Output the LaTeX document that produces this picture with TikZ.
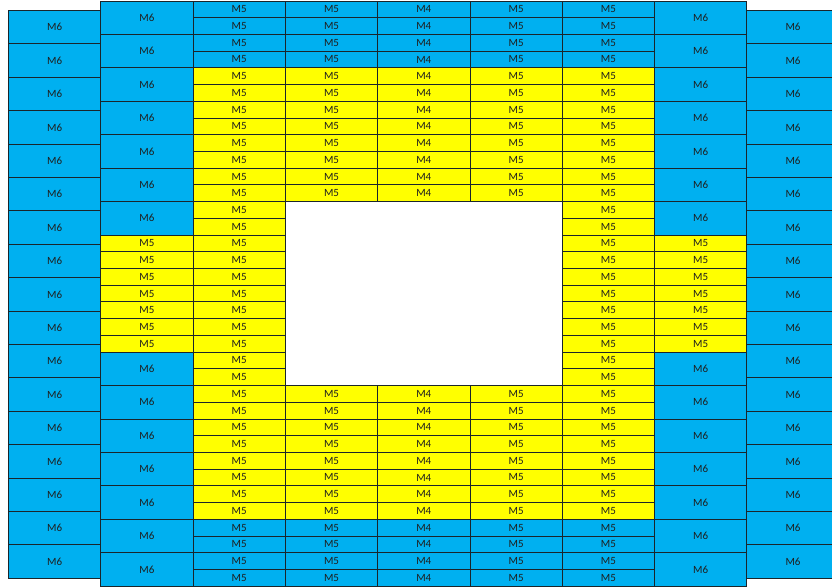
\documentclass[tikz,border=0pt]{standalone}
\usepackage{fontspec}
\setmainfont{Carlito}
\definecolor{cblue}{HTML}{00B0F0}
\definecolor{cyel}{HTML}{FFFF00}
\definecolor{cline}{HTML}{1A252B}
\tikzset{
  cell/.style={draw=cline, line width=0.9pt, inner sep=0pt, anchor=north west,
    font=\fontsize{11}{12}\selectfont, text=black!88},
  bluecell/.style={cell, fill=cblue},
  yelcell/.style={cell, fill=cyel},
  single/.style={minimum width=92.3pt, minimum height=16.72pt},
  double/.style={minimum width=92.3pt, minimum height=33.44pt},
  outer/.style={minimum width=92.3pt, minimum height=33.4pt},
}
\begin{document}
\begin{tikzpicture}[x=1pt,y=-1pt]
\useasboundingbox (0,0) rectangle (832,587);
\clip (0,0) rectangle (832,587);
\def\H{16.72}
% outer columns
\foreach \j in {0,...,16}{
  \node[bluecell, outer] (L\j) at (8, 10+\j*33.4) {M6};
  \node[bluecell, outer] (R\j) at (746.4, 10+\j*33.4) {M6};
}
% columns B and H
\foreach \c/\x in {B/100.3, H/654.1}{
  \foreach \j in {0,...,6}{
    \node[bluecell, double] (\c t\j) at (\x, 0.5+2*\j*\H) {M6};
    \node[bluecell, double] (\c b\j) at (\x, 0.5+21*\H+2*\j*\H) {M6};
  }
  \foreach \r in {14,...,20}{
    \node[yelcell, single] (\c\r) at (\x, 0.5+\r*\H) {M5};
  }
}
% columns C and G
\foreach \c/\x in {C/192.6, G/561.8}{
  \foreach \r in {0,...,34}{
    \ifnum\r<4 \def\st{bluecell}\else\ifnum\r>30 \def\st{bluecell}\else\def\st{yelcell}\fi\fi
    \node[\st, single] (\c\r) at (\x, 0.5+\r*\H) {M5};
  }
}
% columns D, E, F
\foreach \c/\x/\lab in {D/284.9/M5, E/377.2/M4, F/469.5/M5}{
  \foreach \r in {0,...,34}{
    \pgfmathtruncatemacro\hole{and(\r>11,\r<23)}
    \ifnum\hole=0
      \ifnum\r<4 \def\st{bluecell}\else\ifnum\r>30 \def\st{bluecell}\else\def\st{yelcell}\fi\fi
      \node[\st, single] (\c\r) at (\x, 0.5+\r*\H) {\lab};
    \fi
  }
}
\end{tikzpicture}
\end{document}
